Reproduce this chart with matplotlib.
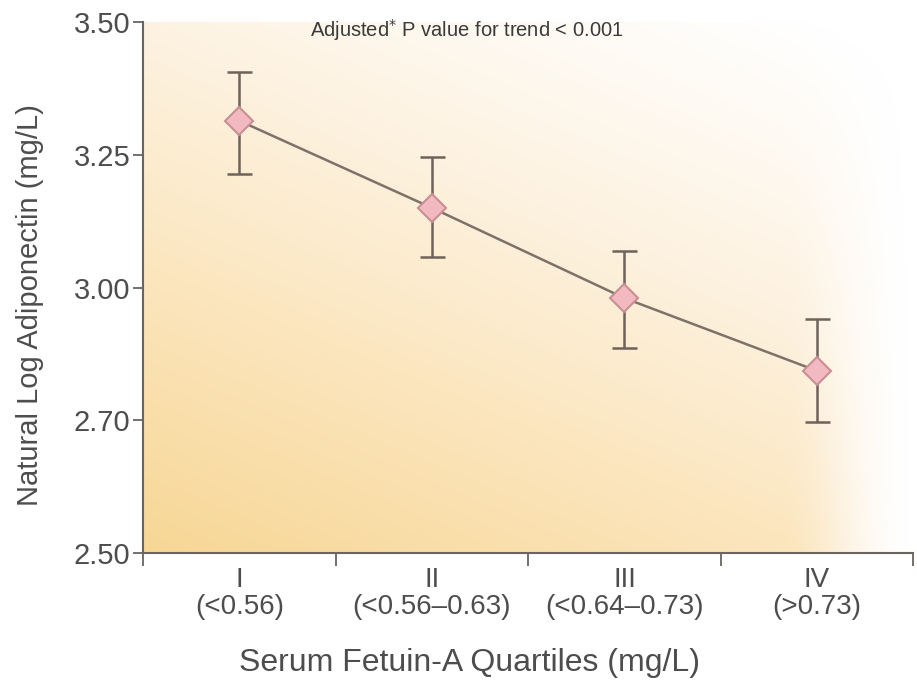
import numpy as np
import matplotlib
matplotlib.use("Agg")
import matplotlib.pyplot as plt
from matplotlib.colors import LinearSegmentedColormap

# Quartile categories and tick labels
quartiles = ["I", "II", "III", "IV"]
ranges = ["(<0.56)", "(<0.56\u20130.63)", "(<0.64\u20130.73)", "(>0.73)"]

# Mean natural log adiponectin and error bar ends
means = [3.314, 3.150, 2.980, 2.843]
upper = [3.406, 3.246, 3.069, 2.941]
lower = [3.214, 3.058, 2.886, 2.747]

# y ticks as printed in the figure
ytick_pos = [2.50, 2.75, 3.00, 3.25, 3.50]
ytick_labels = ["2.50", "2.70", "3.00", "3.25", "3.50"]

plt.rcParams["font.family"] = ["Liberation Sans", "DejaVu Sans"]
txt = "#4d4d4d"
axcol = "#6b6560"

fig = plt.figure(figsize=(9.17, 6.87), dpi=100)
ax = fig.add_axes([0.156, 0.195, 0.84, 0.773])

# warm gradient background: strongest bottom-left, fading up and to the right
gx, gy = np.meshgrid(np.linspace(0, 1, 300), np.linspace(0, 1, 300))
g = np.clip(1 - 0.4 * gx - 0.65 * gy, 0, 1) ** 1.1
f = np.clip((1 - gx) / 0.17, 0, 1)
g *= f * f * (3 - 2 * f)
cmap = LinearSegmentedColormap.from_list("warm", ["#ffffff", "#fdf2e0", "#fbe4b9", "#f7d796"])
ax.imshow(g, cmap=cmap, vmin=0, vmax=1, origin="lower", extent=[0, 1, 0, 1],
          transform=ax.transAxes, aspect="auto", zorder=0, interpolation="bicubic")

x = np.arange(len(quartiles)) + 0.5
yerr = [np.array(means) - np.array(lower), np.array(upper) - np.array(means)]
ax.errorbar(x, means, yerr=yerr, fmt="none", ecolor="#6e625a", elinewidth=1.8,
            capsize=9, capthick=1.8, zorder=2)
ax.plot(x, means, color="#7d716a", lw=1.8, zorder=3)
ax.plot(x, means, linestyle="none", marker="D", markersize=14,
        markerfacecolor="#f3b9c0", markeredgecolor="#c88f93", markeredgewidth=1.5,
        zorder=4)

ax.set_xlim(0, 4)
ax.set_ylim(2.50, 3.50)
ax.set_yticks(ytick_pos)
ax.set_yticklabels(ytick_labels)
ax.set_xticks(np.arange(0, 5))
ax.set_xticklabels([])
ax.set_xticks(x, minor=True)
ax.set_xticklabels([q + "\n" + r for q, r in zip(quartiles, ranges)], minor=True,
                   linespacing=1.05)

ax.tick_params(axis="y", direction="out", length=7, width=1.3, colors=axcol,
               labelcolor=txt, labelsize=21, pad=2)
ax.tick_params(axis="x", which="major", direction="out", length=9, width=1.3,
               colors=axcol)
ax.tick_params(axis="x", which="minor", length=0, labelcolor=txt, labelsize=20,
               pad=10)

for side in ["top", "right"]:
    ax.spines[side].set_visible(False)
for side in ["left", "bottom"]:
    ax.spines[side].set_color(axcol)
    ax.spines[side].set_linewidth(1.5)

ax.set_ylabel("Natural Log Adiponectin (mg/L)", fontsize=21, color=txt)
ax.yaxis.set_label_coords(-0.128, 0.467)
ax.set_xlabel("Serum Fetuin-A Quartiles (mg/L)", fontsize=23, color=txt)
ax.xaxis.set_label_coords(0.424, -0.178)
ax.text(0.42, 1.01, "Adjusted$^{*}$ P value for trend < 0.001", transform=ax.transAxes,
        ha="center", va="top", fontsize=14.5, color="#3a3a3a")

fig.savefig("out.png", dpi=100)
